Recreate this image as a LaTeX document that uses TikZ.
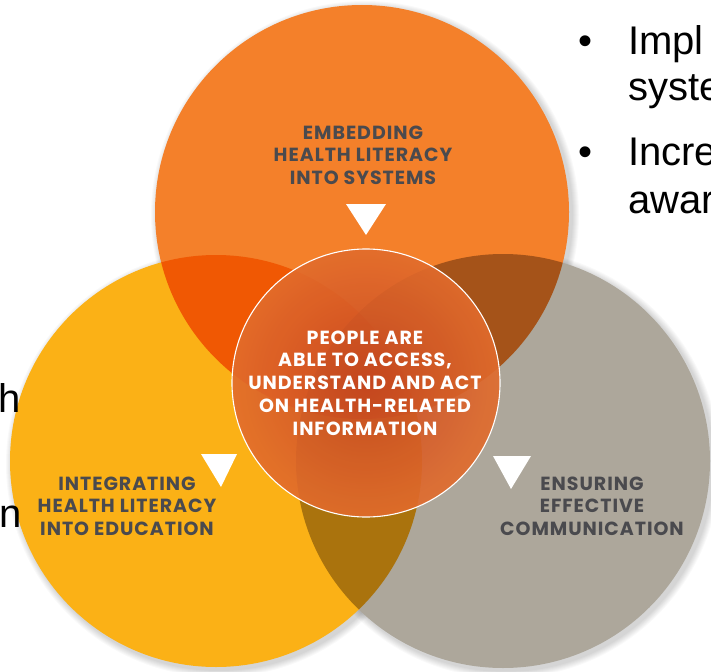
\documentclass[tikz,border=0pt]{standalone}
\usepackage{fontspec}
\setmainfont{Liberation Sans}
\newfontfamily\labfont[LetterSpace=5]{Poppins}
\definecolor{orng}{RGB}{244,128,42}
\definecolor{yell}{RGB}{251,177,22}
\definecolor{gry}{RGB}{173,167,155}
\definecolor{labgray}{RGB}{74,74,78}
\definecolor{coreIn}{RGB}{200,72,34}
\definecolor{coreOut}{RGB}{226,108,44}
\tikzset{
  vcirc/.style={circle, inner sep=0pt, minimum size=#1, draw=none},
  lab/.style={align=center, text=labgray, font=\labfont\bfseries\fontsize{19}{22.5}\selectfont},
  corelab/.style={align=center, text=white, font=\labfont\bfseries\fontsize{19}{22.8}\selectfont},
  slide/.style={anchor=base west, inner sep=0pt, font=\fontsize{40}{46}\selectfont},
  tri/.style={fill=white, draw=none}
}
\begin{document}
\begin{tikzpicture}[x=1pt,y=-1pt]
\useasboundingbox (0,0) rectangle (711,671);
\fill[white] (0,0) rectangle (711,671);
% soft shadows
\foreach \i in {1,...,7}{
  \fill[black, opacity=0.022] (365,215) circle ({207pt+\i pt});
  \fill[black, opacity=0.022] (219,464) circle ({206pt+\i pt});
  \fill[black, opacity=0.022] (506,464) circle ({207pt+\i pt});
}
% Venn circles with multiply blending
\begin{scope}[blend group=multiply]
  \node[vcirc=414pt, fill=orng] (sys) at (362,212) {};
  \node[vcirc=412pt, fill=yell] (edu) at (216,461) {};
  \node[vcirc=414pt, fill=gry]  (com) at (503,461) {};
\end{scope}
% central circle
\shade[inner color=coreIn, outer color=coreOut, fill opacity=0.9] (366,383) circle (134pt);
\node[vcirc=268pt, draw=white, line width=1.1pt] (core) at (366,383) {};
% triangles
\fill[tri] (346,204) -- (386,204) -- (366,235) -- cycle;
\fill[tri] (201,454) -- (237,454) -- (221,487) -- cycle;
\fill[tri] (493,456) -- (531,456) -- (511,489) -- cycle;
% labels
\node[lab] (tsys) at (363,155) {EMBEDDING\\HEALTH LITERACY\\INTO SYSTEMS};
\node[lab] (tedu) at (127,506) {INTEGRATING\\HEALTH LITERACY\\INTO EDUCATION};
\node[lab] (tcom) at (592,506) {ENSURING\\EFFECTIVE\\COMMUNICATION};
\node[corelab] (tcore) at (365,383) {PEOPLE ARE\\ABLE TO ACCESS,\\UNDERSTAND AND ACT\\ON HEALTH-RELATED\\INFORMATION};
% slide text fragments
\node[slide] (b1) at (578,55) {\textbullet};
\node[slide] (s1) at (628,55) {Impl};
\node[slide] (s2) at (628,101) {syste};
\node[slide] (b2) at (578,165) {\textbullet};
\node[slide] (s3) at (628,165) {Incre};
\node[slide] (s4) at (628,213) {awar};
\node[slide] (s5) at (-2,412) {h};
\node[slide] (s6) at (-1,527) {n};
\end{tikzpicture}
\end{document}
